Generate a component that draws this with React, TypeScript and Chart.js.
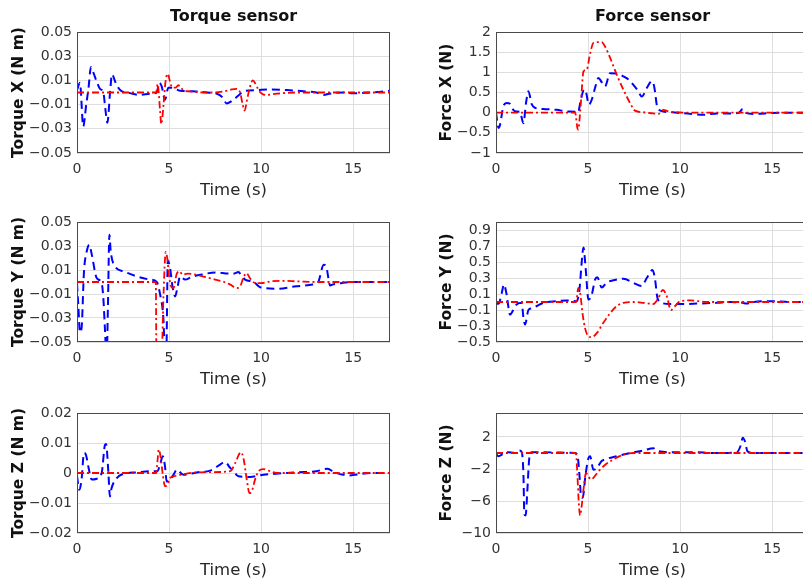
import React, { useEffect, useRef } from 'react';
import { Chart, registerables } from 'chart.js';

Chart.register(...registerables);

// ---------- data ----------
const X_TICKS = [0, 5, 10, 15];

const TX_TICKS = [-0.05, -0.03, -0.01, 0.01, 0.03, 0.05];
const TY_TICKS = [-0.05, -0.03, -0.01, 0.01, 0.03, 0.05];
const TZ_TICKS = [-0.02, -0.01, 0, 0.01, 0.02];
const FX_TICKS = [-1, -0.5, 0, 0.5, 1, 1.5, 2];
const FY_TICKS = [-0.5, -0.3, -0.1, 0.1, 0.3, 0.5, 0.7, 0.9];
const FZ_TICKS = [-10, -6, -2, 2];

// Torque X
const TX_B_T = [0, 0.16, 0.34, 0.5, 0.62, 0.76, 0.9, 1.07, 1.25, 1.43, 1.55, 1.65, 1.8, 1.9, 2.1, 2.34, 2.88, 3.42, 3.97, 4.33, 4.47, 4.6, 4.78, 4.96, 5.14, 5.6, 6.3, 7.05, 7.6, 7.9, 8.13, 8.5, 8.8, 9.04, 9.76, 10.5, 11.4, 12.3, 13.0, 13.4, 13.7, 14.45, 15.0, 16.0, 17];
const TX_B_V = [0.002, 0.008, -0.028, -0.01, 0.003, 0.021, 0.016, 0.009, 0.003, 0, -0.015, -0.025, 0.001, 0.015, 0.008, 0.002, -0.0005, -0.002, -0.001, 0, 0.008, 0.005, -0.006, 0.004, 0.004, 0.0015, 0.001, 0, -0.001, -0.004, -0.009, -0.006, -0.002, 0.001, 0.002, 0.0025, 0.002, 0.001, 0, -0.002, -0.001, 0, -0.0007, 0, 0.0015];
const TX_R_T = [0, 4.3, 4.38, 4.44, 4.51, 4.58, 4.7, 4.8, 4.93, 5.05, 5.18, 5.35, 5.5, 5.65, 5.8, 6.1, 6.5, 7.0, 7.5, 8.0, 8.4, 8.65, 8.86, 9.0, 9.1, 9.25, 9.4, 9.55, 9.7, 9.86, 10.05, 10.25, 10.85, 11.9, 17];
const TX_R_V = [0, 0, 0.007, 0.0, -0.015, -0.026, -0.01, 0.008, 0.0155, 0.009, 0.004, 0.004, 0.006, 0.004, 0.0015, 0.001, 0.0004, 0, 0, 0.001, 0.0025, 0.003, 0, -0.01, -0.015, -0.005, 0.005, 0.01, 0.007, 0.002, -0.001, -0.002, -0.001, 0, 0];

// Force X
const FX_B_T = [0, 0.14, 0.22, 0.4, 0.58, 0.76, 0.94, 1.1, 1.3, 1.49, 1.63, 1.76, 1.94, 2.12, 2.57, 3.3, 3.84, 4.29, 4.45, 4.6, 4.75, 4.84, 5.05, 5.2, 5.4, 5.56, 5.75, 5.92, 6.2, 6.56, 6.92, 7.2, 7.46, 7.7, 7.92, 8.19, 8.46, 8.59, 8.77, 9.09, 9.82, 10.54, 11.27, 12.0, 12.7, 13.2, 13.4, 13.53, 14.0, 15.0, 16.0, 17];
const FX_B_V = [0, -0.38, -0.3, 0.16, 0.24, 0.22, 0.07, 0.03, 0.02, -0.26, 0.24, 0.53, 0.21, 0.12, 0.09, 0.07, 0.03, 0.02, 0, 0.3, 0.55, 0.57, 0.2, 0.32, 0.65, 0.86, 0.75, 0.65, 0.98, 0.97, 0.9, 0.82, 0.69, 0.55, 0.4, 0.61, 0.78, 0.65, 0.12, 0.03, 0, -0.03, -0.05, -0.02, -0.02, 0, 0.09, 0, -0.03, -0.01, 0, 0];
const FX_R_T = [0, 4.3, 4.42, 4.47, 4.55, 4.62, 4.75, 4.93, 5.1, 5.29, 5.47, 5.74, 5.92, 6.2, 6.56, 6.92, 7.28, 7.55, 8.0, 8.55, 8.82, 9.1, 9.37, 9.82, 11, 17];
const FX_R_V = [0, 0, -0.38, -0.42, -0.1, 0.3, 1.02, 1.07, 1.44, 1.73, 1.75, 1.75, 1.64, 1.36, 0.94, 0.57, 0.24, 0.05, 0.01, -0.02, -0.03, 0.07, 0.03, 0.01, 0, 0];

// Torque Y
const TY_B_T = [0, 0.07, 0.16, 0.25, 0.38, 0.53, 0.67, 0.8, 1.07, 1.34, 1.43, 1.52, 1.61, 1.68, 1.76, 1.83, 2.07, 2.52, 3.24, 3.97, 4.33, 4.51, 4.69, 4.78, 4.85, 4.93, 5.05, 5.2, 5.33, 5.45, 5.6, 5.87, 6.2, 6.7, 7.6, 8.2, 8.5, 8.77, 8.9, 9.13, 9.6, 9.95, 10.85, 11.9, 12.8, 13.1, 13.4, 13.55, 13.75, 13.9, 14.3, 15, 16, 17];
const TY_B_V = [-0.001, -0.019, -0.042, -0.038, 0.009, 0.0256, 0.031, 0.023, 0.0033, -0.001, -0.0133, -0.04, -0.065, -0.02, 0.0394, 0.0256, 0.013, 0.0089, 0.0047, 0.002, 0, -0.01, -0.03, -0.06, -0.06, 0.018, 0.012, -0.005, -0.012, -0.005, 0.0047, 0.002, 0.004, 0.006, 0.008, 0.007, 0.007, 0.0083, 0.006, 0.002, 0.0, -0.0044, -0.0056, -0.0036, -0.002, 0, 0.0144, 0.012, -0.003, -0.002, -0.001, 0, 0, 0];
const TY_R_T = [0, 4.28, 4.32, 4.58, 4.7, 4.82, 4.9, 5.0, 5.12, 5.25, 5.4, 5.55, 5.75, 6.0, 6.5, 7.0, 7.5, 8.0, 8.3, 8.7, 8.85, 9.05, 9.2, 9.4, 9.7, 10.0, 10.5, 11.0, 12.0, 13.0, 17];
const TY_R_V = [0, 0, -0.07, -0.07, -0.01, 0.025, 0.02, 0.005, -0.004, -0.005, 0.006, 0.009, 0.006, 0.007, 0.006, 0.004, 0.002, 0, -0.002, -0.005, -0.004, 0.004, 0.0075, 0.003, -0.001, -0.001, 0.0005, 0.001, 0.0005, 0, 0];

// Force Y
const FY_B_T = [0, 0.15, 0.31, 0.43, 0.58, 0.76, 0.94, 1.12, 1.4, 1.49, 1.58, 1.76, 1.94, 2.21, 2.57, 3.3, 3.84, 4.38, 4.53, 4.66, 4.75, 4.87, 5.02, 5.2, 5.38, 5.5, 5.74, 6.0, 6.56, 6.92, 7.46, 7.92, 8.19, 8.5, 8.64, 8.77, 9.0, 9.46, 10.2, 10.9, 12.0, 12.7, 13.4, 13.6, 14, 15, 16, 17];
const FY_B_V = [-0.025, -0.02, 0.11, 0.22, 0.09, -0.16, -0.1, -0.03, -0.01, -0.2, -0.28, -0.1, -0.08, -0.05, -0.01, 0.01, 0.02, 0.01, 0.15, 0.51, 0.68, 0.42, 0.03, 0.09, 0.28, 0.31, 0.18, 0.24, 0.28, 0.29, 0.24, 0.2, 0.3, 0.4, 0.28, 0.05, -0.01, -0.025, -0.025, -0.02, -0.01, 0, -0.01, -0.02, 0, 0.01, 0, 0];
const FY_R_T = [0, 4.35, 4.47, 4.56, 4.71, 4.84, 5.02, 5.2, 5.47, 5.83, 6.2, 6.56, 6.92, 7.46, 8.0, 8.55, 8.82, 9.06, 9.28, 9.5, 9.73, 10.0, 10.54, 11.45, 17];
const FY_R_V = [0, 0, 0.175, 0.13, -0.16, -0.33, -0.43, -0.44, -0.39, -0.26, -0.14, -0.05, -0.01, 0, -0.01, -0.025, 0.05, 0.15, 0.07, -0.1, -0.05, 0.01, 0.02, 0, 0];

// Torque Z
const TZ_B_T = [0, 0.13, 0.25, 0.38, 0.49, 0.62, 0.8, 1.07, 1.34, 1.52, 1.58, 1.7, 1.79, 1.88, 2.16, 2.52, 3.24, 3.97, 4.37, 4.51, 4.66, 4.78, 4.87, 5.05, 5.24, 5.42, 5.78, 6.5, 7.23, 7.77, 8.04, 8.32, 8.5, 8.77, 9.4, 10.13, 11.4, 12.3, 13.0, 13.6, 14.0, 14.8, 15.2, 16, 17];
const TZ_B_V = [-0.001, -0.0056, -0.002, 0.0067, 0.006, 0.002, -0.0022, -0.0019, 0, 0.0094, 0.0097, 0.0006, -0.0078, -0.005, -0.0017, -0.0003, 0.0002, 0.0006, 0.0006, 0.0028, 0.0056, 0.0022, -0.0028, -0.0022, -0.0006, 0.0011, -0.0006, 0.0002, 0.0008, 0.0028, 0.0037, 0.0017, 0.0006, -0.0011, -0.0013, -0.0006, 0, 0.0003, 0.0006, 0.0014, 0.0002, -0.0008, -0.0005, 0, 0];
const TZ_R_T = [0, 4.3, 4.37, 4.44, 4.55, 4.66, 4.78, 4.91, 5.05, 5.24, 5.6, 6.5, 7.4, 8.32, 8.59, 8.9, 9.04, 9.22, 9.37, 9.5, 9.67, 9.86, 10.13, 10.4, 10.85, 17];
const TZ_R_V = [0, 0, 0.0039, 0.0078, 0.005, -0.0006, -0.0044, -0.0039, -0.0017, -0.0011, -0.0006, 0.0002, 0.0003, 0.0006, 0.0033, 0.0069, 0.005, -0.0022, -0.0067, -0.006, -0.0022, 0.0006, 0.0013, 0.0008, 0, 0];

// Force Z
const FZ_B_T = [0, 0.13, 0.4, 0.67, 1.0, 1.27, 1.4, 1.49, 1.54, 1.61, 1.7, 1.81, 1.94, 2.57, 3.5, 4.29, 4.42, 4.53, 4.62, 4.71, 4.85, 5.0, 5.11, 5.29, 5.47, 5.74, 5.92, 6.56, 7.28, 8.0, 8.55, 8.73, 9.46, 10.54, 12.0, 13.08, 13.3, 13.4, 13.53, 13.66, 14, 15, 17];
const FZ_B_V = [-0.1, -0.4, -0.1, 0.1, 0, 0.3, 0.1, -2.7, -7.7, -7.8, -4.8, -0.6, 0.1, 0.1, 0.05, 0, -0.2, -2.7, -5.4, -5.6, -3, -0.8, -0.4, -2.1, -1.9, -1.0, -0.8, -0.4, 0, 0.3, 0.6, 0.3, 0.1, 0.1, 0, 0.1, 1.0, 1.9, 1.4, 0.2, 0, 0, 0];
const FZ_R_T = [0, 4.3, 4.35, 4.42, 4.49, 4.57, 4.64, 4.75, 4.89, 5.02, 5.14, 5.29, 5.56, 5.92, 6.38, 6.92, 7.46, 17];
const FZ_R_V = [0, 0, -0.2, -2.7, -6.0, -7.8, -6.9, -4.6, -2.5, -2.9, -3.3, -3.1, -2.3, -1.5, -0.8, -0.2, 0, 0];

// ---------- layout / style ----------
const FONT = '"DejaVu Sans", "Liberation Sans", sans-serif';
const COL_PLOT_LEFT = [77, 496];
const COL_YAXIS_W = [67, 58];
const ROW_PLOT_TOP = [32, 222, 413];
const ROW_PLOT_BOTTOM = [153, 342, 533];
const PLOT_W = 313;
const X_AXIS_H = 48;

function fmt(v: number) {
  const s = String(Math.abs(v));
  return v < 0 ? '\u2212' + s : s;
}

const frameBox = {
  id: 'frameBox',
  afterDraw(chart: any) {
    const { ctx, chartArea: a } = chart;
    ctx.save();
    ctx.strokeStyle = '#4a4a4a';
    ctx.lineWidth = 1;
    ctx.strokeRect(Math.round(a.left) + 0.5, Math.round(a.top) + 0.5, Math.round(a.right - a.left) - 1, Math.round(a.bottom - a.top) - 1);
    ctx.restore();
  },
};

type PanelDef = {
  col: number; row: number; title?: string; ylabel: string;
  ymin: number; ymax: number; yticks: number[];
  bT: number[]; bV: number[]; rT: number[]; rV: number[];
};

const PANELS: PanelDef[] = [
  { col: 0, row: 0, title: 'Torque sensor', ylabel: 'Torque X (N m)', ymin: -0.05, ymax: 0.05, yticks: TX_TICKS, bT: TX_B_T, bV: TX_B_V, rT: TX_R_T, rV: TX_R_V },
  { col: 1, row: 0, title: 'Force sensor', ylabel: 'Force X (N)', ymin: -1, ymax: 2, yticks: FX_TICKS, bT: FX_B_T, bV: FX_B_V, rT: FX_R_T, rV: FX_R_V },
  { col: 0, row: 1, ylabel: 'Torque Y (N m)', ymin: -0.05, ymax: 0.05, yticks: TY_TICKS, bT: TY_B_T, bV: TY_B_V, rT: TY_R_T, rV: TY_R_V },
  { col: 1, row: 1, ylabel: 'Force Y (N)', ymin: -0.5, ymax: 1.0, yticks: FY_TICKS, bT: FY_B_T, bV: FY_B_V, rT: FY_R_T, rV: FY_R_V },
  { col: 0, row: 2, ylabel: 'Torque Z (N m)', ymin: -0.02, ymax: 0.02, yticks: TZ_TICKS, bT: TZ_B_T, bV: TZ_B_V, rT: TZ_R_T, rV: TZ_R_V },
  { col: 1, row: 2, ylabel: 'Force Z (N)', ymin: -10, ymax: 5, yticks: FZ_TICKS, bT: FZ_B_T, bV: FZ_B_V, rT: FZ_R_T, rV: FZ_R_V },
];

function pts(t: number[], v: number[]) {
  return t.map((x, i) => ({ x, y: v[i] }));
}

function Panel({ p }: { p: PanelDef }) {
  const ref = useRef<HTMLCanvasElement>(null);
  const yW = COL_YAXIS_W[p.col];
  const topPad = p.row === 0 ? 32 : 20;
  const left = COL_PLOT_LEFT[p.col] - yW;
  const top = ROW_PLOT_TOP[p.row] - topPad;
  const width = yW + PLOT_W + 12;
  const height = topPad + (ROW_PLOT_BOTTOM[p.row] - ROW_PLOT_TOP[p.row]) + X_AXIS_H;

  useEffect(() => {
    if (!ref.current) return;
    const chart = new Chart(ref.current, {
      type: 'line',
      data: {
        datasets: [
          {
            data: pts(p.rT, p.rV),
            borderColor: '#ff0000',
            borderWidth: 1.8,
            borderDash: [7, 3, 2, 3],
            pointRadius: 0,
            cubicInterpolationMode: 'monotone',
            fill: false,
          },
          {
            data: pts(p.bT, p.bV),
            borderColor: '#0000ff',
            borderWidth: 2,
            borderDash: [8, 5],
            pointRadius: 0,
            cubicInterpolationMode: 'monotone',
            fill: false,
          },
        ],
      },
      options: {
        animation: false,
        responsive: false,
        devicePixelRatio: 1,
        events: [],
        layout: { padding: { left: 0, right: 12, top: p.row === 0 ? 0 : topPad, bottom: 0 } },
        plugins: {
          legend: { display: false },
          tooltip: { enabled: false },
          title: {
            display: !!p.title,
            text: p.title || '',
            fullSize: false,
            color: '#111',
            font: { family: FONT, size: 16, weight: 'bold' },
            padding: { top: 7, bottom: 5.8 },
          },
        },
        scales: {
          x: {
            type: 'linear',
            min: 0,
            max: 17,
            afterBuildTicks: (s: any) => { s.ticks = X_TICKS.map((v) => ({ value: v })); },
            afterFit: (s: any) => { s.height = X_AXIS_H; },
            grid: { color: '#dedede', drawTicks: false, lineWidth: 1 },
            border: { display: false },
            ticks: { color: '#333', padding: 7.5, maxRotation: 0, autoSkip: false, font: { family: FONT, size: 14 }, callback: (v: any) => fmt(Number(v)) },
            title: { display: true, text: 'Time (s)', color: '#262626', padding: 0, font: { family: FONT, size: 16.5 } },
          },
          y: {
            type: 'linear',
            min: p.ymin,
            max: p.ymax,
            afterBuildTicks: (s: any) => { s.ticks = p.yticks.map((v) => ({ value: v })); },
            afterFit: (s: any) => { s.width = yW; },
            grid: { color: '#dedede', drawTicks: false, lineWidth: 1 },
            border: { display: false },
            ticks: { color: '#333', padding: 5, autoSkip: false, font: { family: FONT, size: 14 }, callback: (v: any) => fmt(Number(v)) },
            title: { display: true, text: p.ylabel, color: '#111', padding: 0, font: { family: FONT, size: 15.5, weight: 'bold' } },
          },
        },
      } as any,
      plugins: [frameBox],
    });
    return () => chart.destroy();
  }, []);

  return (
    <canvas
      ref={ref}
      width={width}
      height={height}
      style={{ position: 'absolute', left, top, width, height, display: 'block' }}
    />
  );
}

export default function App() {
  return (
    <div style={{ position: 'fixed', left: 0, top: 0, width: 803, height: 586, overflow: 'hidden', background: '#fff' }}>
      {PANELS.map((p, i) => (
        <Panel key={i} p={p} />
      ))}
    </div>
  );
}
